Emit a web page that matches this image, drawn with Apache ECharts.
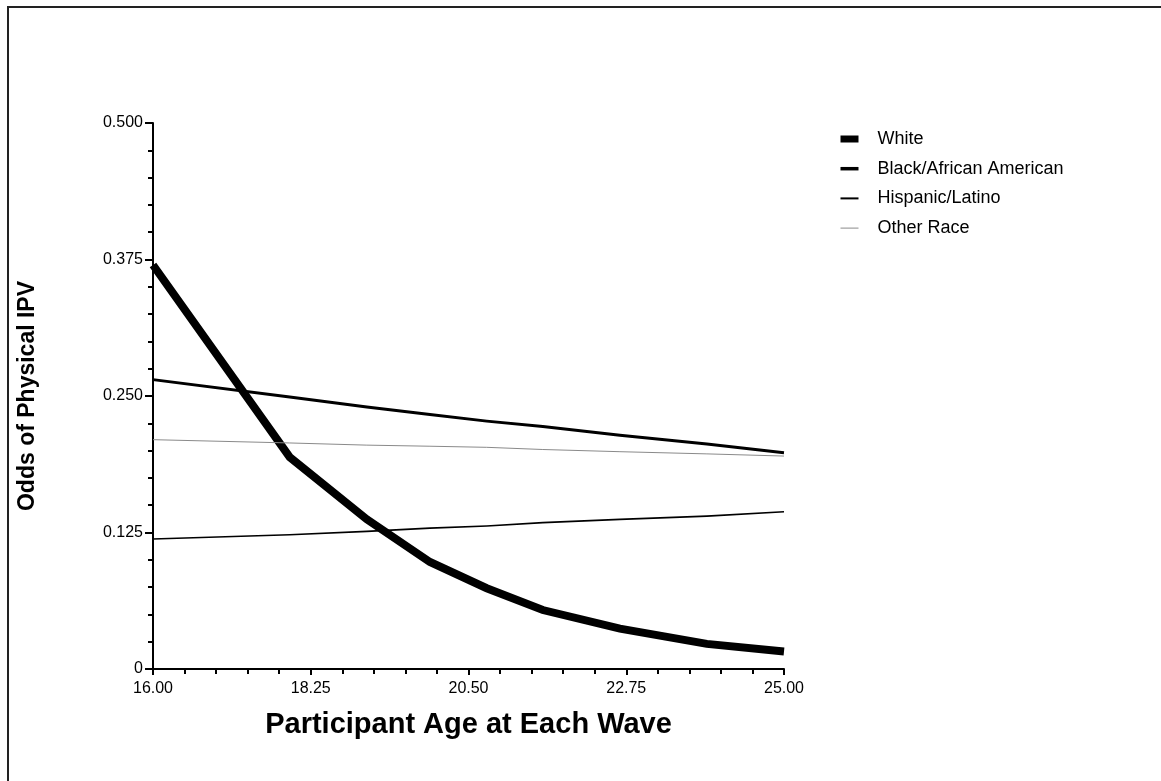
<!DOCTYPE html>
<html>
<head>
<meta charset="utf-8">
<script src="https://cdn.jsdelivr.net/npm/echarts@6/dist/echarts.min.js"></script>
<style>
html,body{margin:0;padding:0;background:#fff;}
#chart{width:1161px;height:781px;}
</style>
</head>
<body>
<div id="chart"></div>
<script>
var ages = [16.00, 17.95, 19.05, 19.95, 20.76, 21.56, 22.66, 23.90, 25.00];
var white = [0.370, 0.194, 0.137, 0.098, 0.074, 0.054, 0.037, 0.023, 0.016];
var black = [0.265, 0.249, 0.240, 0.233, 0.227, 0.222, 0.214, 0.206, 0.198];
var hispanic = [0.119, 0.123, 0.126, 0.129, 0.131, 0.134, 0.137, 0.140, 0.144];
var other = [0.210, 0.207, 0.205, 0.204, 0.203, 0.201, 0.199, 0.197, 0.195];
var seriesNames = ['White', 'Black/African American', 'Hispanic/Latino', 'Other Race'];
var xTicks = ['16.00', '18.25', '20.50', '22.75', '25.00'];
var yTicks = ['0', '0.125', '0.250', '0.375', '0.500'];

function pairs(vals){ return ages.map(function(a,i){ return [a, vals[i]]; }); }
var font = 'Liberation Sans, Arial, sans-serif';
var chart = echarts.init(document.getElementById('chart'));
function mk(name, vals, w, color){
  return {name:name, type:'line', data:pairs(vals), symbol:'none', showSymbol:false,
    lineStyle:{width:w, color:color, cap:'butt', join:'miter'}, itemStyle:{color:color},
    emphasis:{disabled:true}, animation:false, z: 10 - w};
}
var legendWidths = [7, 3.5, 2, 1];
var legendColors = ['#000', '#000', '#000', '#8a8a8a'];
chart.setOption({
  animation:false,
  backgroundColor:'#fff',
  graphic:[{type:'rect', x:0, y:0, shape:{x:8, y:7, width:1160, height:800}, style:{fill:'none', stroke:'#222', lineWidth:2}, silent:true}],
  grid:{left:153, right:377, top:123, bottom:112},
  legend:{orient:'vertical', left:837, top:130, padding:0, itemWidth:18, itemHeight:16, itemGap:11.7,
    data:seriesNames.map(function(n,i){ return {name:n, itemStyle:{opacity:0}, lineStyle:{width:legendWidths[i], color:legendColors[i], cap:'butt'}}; }),
    textStyle:{fontFamily:font, fontSize:18, color:'#000', padding:[0,0,0,14]}, selectedMode:false},
  xAxis:{type:'value', min:16, max:25, interval:2.25,
    name:'Participant Age at Each Wave', nameLocation:'middle', nameGap:41,
    nameTextStyle:{fontFamily:font, fontSize:29, fontWeight:'bold', color:'#000'},
    axisLine:{lineStyle:{color:'#000', width:2}},
    axisTick:{show:true, length:6, lineStyle:{color:'#000', width:2}},
    minorTick:{show:true, splitNumber:5, length:5, lineStyle:{color:'#000', width:2}},
    splitLine:{show:false},
    axisLabel:{fontFamily:font, fontSize:16, color:'#000', margin:12,
      formatter:function(v){ var i=Math.round((v-16)/2.25); return xTicks[i]; }}
  },
  yAxis:{type:'value', min:0, max:0.5, interval:0.125,
    name:'Odds of Physical IPV', nameLocation:'middle', nameGap:114,
    nameTextStyle:{fontFamily:font, fontSize:23, fontWeight:'bold', color:'#000'},
    axisLine:{show:true, lineStyle:{color:'#000', width:2}},
    axisTick:{show:true, length:8, lineStyle:{color:'#000', width:2}},
    minorTick:{show:true, splitNumber:5, length:5, lineStyle:{color:'#000', width:2}},
    splitLine:{show:false},
    axisLabel:{fontFamily:font, fontSize:16, color:'#000', margin:10,
      formatter:function(v){ var i=Math.round(v/0.125); return yTicks[i]; }}
  },
  series:[
    mk(seriesNames[0], white, 8, '#000'),
    mk(seriesNames[1], black, 3, '#000'),
    mk(seriesNames[2], hispanic, 1.6, '#000'),
    mk(seriesNames[3], other, 1, '#8a8a8a')
  ]
});
</script>
</body>
</html>
